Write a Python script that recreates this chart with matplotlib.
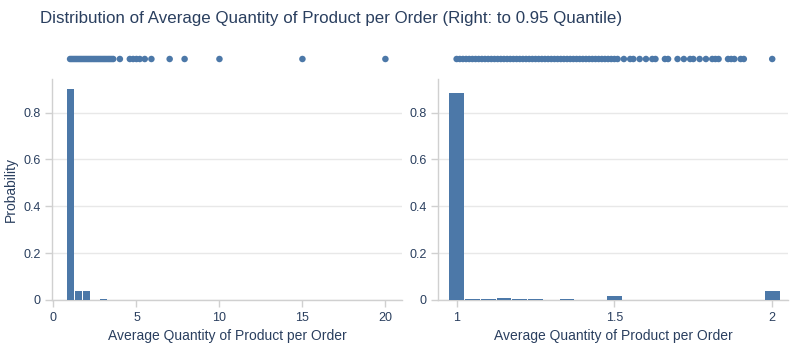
import matplotlib
matplotlib.use("Agg")
import matplotlib.pyplot as plt

# ---- data ----
title = "Distribution of Average Quantity of Product per Order (Right: to 0.95 Quantile)"
x_label = "Average Quantity of Product per Order"
y_label = "Probability"

left_bin_centers = [1, 1.5, 2, 2.5, 3, 3.5, 4, 4.5, 5, 5.5, 6, 6.5, 7, 8, 10, 15, 20]
left_probs = [0.9, 0.04, 0.04, 0.0015, 0.005, 0.001, 0.002, 0.0008, 0.001, 0.0005, 0.001,
              0.0003, 0.0004, 0.0003, 0.0003, 0.0002, 0.0002]
left_bin_width = 0.5

right_bin_centers = [1, 1.05, 1.1, 1.15, 1.2, 1.25, 1.3, 1.35, 1.4, 1.45, 1.5, 1.55, 1.6,
                     1.65, 1.7, 1.75, 1.8, 1.85, 1.9, 1.95, 2]
right_probs = [0.885, 0.006, 0.006, 0.008, 0.004, 0.004, 0.0008, 0.006, 0.001, 0.001, 0.017,
               0.0005, 0.001, 0.002, 0.0015, 0.0008, 0.001, 0.0005, 0.0005, 0.0003, 0.04]
right_bin_width = 0.05

left_points = [1, 1.1, 1.2, 1.3, 1.4, 1.5, 1.6, 1.7, 1.8, 1.9, 2, 2.1, 2.2, 2.3, 2.4, 2.5,
               2.6, 2.7, 2.8, 2.9, 3, 3.1, 3.2, 3.3, 3.4, 3.5, 3.6, 4, 4.6, 4.8, 5, 5.2, 5.5,
               5.9, 7, 7.9, 10, 15, 20]
right_points = [1 + i * 0.01 for i in range(0, 52)] + \
               [1.53, 1.55, 1.56, 1.58, 1.6, 1.62, 1.63, 1.66, 1.67, 1.7, 1.72, 1.74, 1.75,
                1.77, 1.79, 1.81, 1.82, 1.83, 1.86, 1.87, 1.88, 1.9, 1.91, 2]

left_xticks = [0, 5, 10, 15, 20]
right_xticks = [1, 1.5, 2]
right_xticklabels = ["1", "1.5", "2"]
yticks = [0, 0.2, 0.4, 0.6, 0.8]
yticklabels = ["0", "0.2", "0.4", "0.6", "0.8"]

# ---- style ----
bar_color = "#4C78A8"
text_color = "#2a3f5f"
grid_color = "#e8e8e8"
axis_color = "#d0d0d0"

plt.rcParams['font.family'] = ['Liberation Sans', 'DejaVu Sans']

fig = plt.figure(figsize=(8, 3.5), dpi=100)
W, H = 800, 350

def px_axes(x0, y0, x1, y1):
    return fig.add_axes([x0 / W, 1 - y1 / H, (x1 - x0) / W, (y1 - y0) / H])

panels = [
    (52, 402, left_bin_centers, left_probs, left_bin_width, 0.86, left_points,
     (-0.09, 21.0), left_xticks, [str(t) for t in left_xticks], True),
    (438, 788, right_bin_centers, right_probs, right_bin_width, 0.93, right_points,
     (0.941, 2.05), right_xticks, right_xticklabels, False),
]

for (x0, x1, centers, probs, bw, fill, pts, xlim, xt, xtl, show_ylabel) in panels:
    ax = px_axes(x0, 79, x1, 300)
    ax.bar(centers, probs, width=bw * fill, color=bar_color, linewidth=0, zorder=3)
    ax.set_xlim(*xlim)
    ax.set_ylim(0, 0.943)
    ax.set_xticks(xt)
    ax.set_xticklabels(xtl)
    ax.set_yticks(yticks)
    ax.set_yticklabels(yticklabels)
    ax.grid(axis="y", color=grid_color, linewidth=1, zorder=0)
    for s in ["top", "right"]:
        ax.spines[s].set_visible(False)
    for s in ["left", "bottom"]:
        ax.spines[s].set_color(axis_color)
        ax.spines[s].set_linewidth(1)
    ax.tick_params(axis="both", colors=axis_color, labelcolor=text_color, labelsize=9,
                   length=5, width=1)
    ax.tick_params(axis="y", pad=3)
    ax.set_xlabel(x_label, color=text_color, fontsize=10, labelpad=4)
    if show_ylabel:
        ax.set_ylabel(y_label, color=text_color, fontsize=10, labelpad=4)

    sax = px_axes(x0, 46, x1, 72)
    sax.scatter(pts, [0] * len(pts), s=22, color=bar_color, edgecolors="none", zorder=3)
    sax.set_xlim(*xlim)
    sax.set_ylim(-1, 1)
    sax.axis("off")

fig.text(40 / W, 1 - 19 / H, title, color=text_color, fontsize=12.2, va="center", ha="left")

fig.savefig("out.png", dpi=100)
